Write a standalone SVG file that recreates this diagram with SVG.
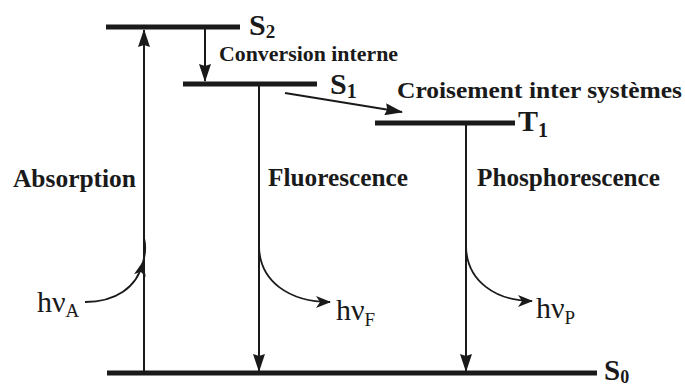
<svg xmlns="http://www.w3.org/2000/svg" width="685" height="387" viewBox="0 0 685 387">
<style>
.bar{stroke:#1a1a1a;stroke-width:5;fill:none}
.ln{stroke:#1a1a1a;stroke-width:2;fill:none}
.cv{stroke:#1a1a1a;stroke-width:1.8;fill:none}
.lbl{font-family:"Liberation Serif","Times New Roman",serif;font-weight:bold;fill:#1a1a1a}
.hv{font-family:"Liberation Serif","Times New Roman",serif;fill:#1a1a1a}
</style>
<defs>
<marker id="ah" markerUnits="userSpaceOnUse" markerWidth="18" markerHeight="12" refX="17" refY="6" orient="auto">
<path d="M0,0 L18,6 L0,12 L2,6 z" fill="#1a1a1a"/>
</marker>
<marker id="ahs" markerUnits="userSpaceOnUse" markerWidth="15" markerHeight="12" refX="14" refY="6" orient="auto">
<path d="M0,0 L15,6 L0,12 L4,6 z" fill="#1a1a1a"/>
</marker>
</defs>
<g id="levels">
<g id="S2"><line class="bar" x1="106" y1="27" x2="240" y2="27"/><text class="lbl" x="249" y="35" font-size="30">S<tspan font-size="19" dy="3">2</tspan></text></g>
<g id="S1"><line class="bar" x1="183" y1="84" x2="317" y2="84"/><text class="lbl" x="330" y="94" font-size="30">S<tspan font-size="20" dy="4">1</tspan></text></g>
<g id="T1"><line class="bar" x1="375" y1="123" x2="515" y2="123"/><text class="lbl" x="518" y="131" font-size="30">T<tspan font-size="20" dy="6">1</tspan></text></g>
<g id="S0"><line class="bar" x1="107" y1="373" x2="597" y2="373"/><text class="lbl" x="604" y="380" font-size="29">S<tspan font-size="18" dy="3">0</tspan></text></g>
</g>
<g id="connectors">
<line class="ln" x1="144" y1="371" x2="144" y2="30" marker-end="url(#ah)"/>
<line class="ln" x1="205" y1="29" x2="205" y2="81" marker-end="url(#ah)"/>
<line class="ln" x1="285" y1="93" x2="402" y2="112" marker-end="url(#ah)"/>
<line class="ln" x1="259" y1="86" x2="259" y2="371" marker-end="url(#ah)"/>
<line class="ln" x1="466" y1="125" x2="466" y2="371" marker-end="url(#ah)"/>
<path class="cv" d="M85,302 C115,302 137,288 143,262" marker-end="url(#ahs)"/>
<path class="cv" d="M143,262 C146,252 146,246 144,238"/>
<path class="cv" d="M259,245 C259,282 290,302 330,302" marker-end="url(#ahs)"/>
<path class="cv" d="M466,245 C466,282 497,301 532,301" marker-end="url(#ahs)"/>
</g>
<g id="labels">
<text class="lbl" x="219" y="61" font-size="22" textLength="179" lengthAdjust="spacingAndGlyphs">Conversion interne</text>
<text class="lbl" x="397" y="98" font-size="23" textLength="285" lengthAdjust="spacingAndGlyphs">Croisement inter systèmes</text>
<text class="lbl" x="13" y="187" font-size="25" textLength="123" lengthAdjust="spacingAndGlyphs">Absorption</text>
<text class="lbl" x="268" y="186" font-size="25" textLength="140" lengthAdjust="spacingAndGlyphs">Fluorescence</text>
<text class="lbl" x="477" y="186" font-size="25" textLength="183" lengthAdjust="spacingAndGlyphs">Phosphorescence</text>
<text class="hv" x="37" y="312" font-size="30">hν<tspan font-size="19" dy="5">A</tspan></text>
<text class="hv" x="336" y="320" font-size="30">hν<tspan font-size="19" dy="6">F</tspan></text>
<text class="hv" x="536" y="318" font-size="30">hν<tspan font-size="19" dy="6">P</tspan></text>
</g>
</svg>
